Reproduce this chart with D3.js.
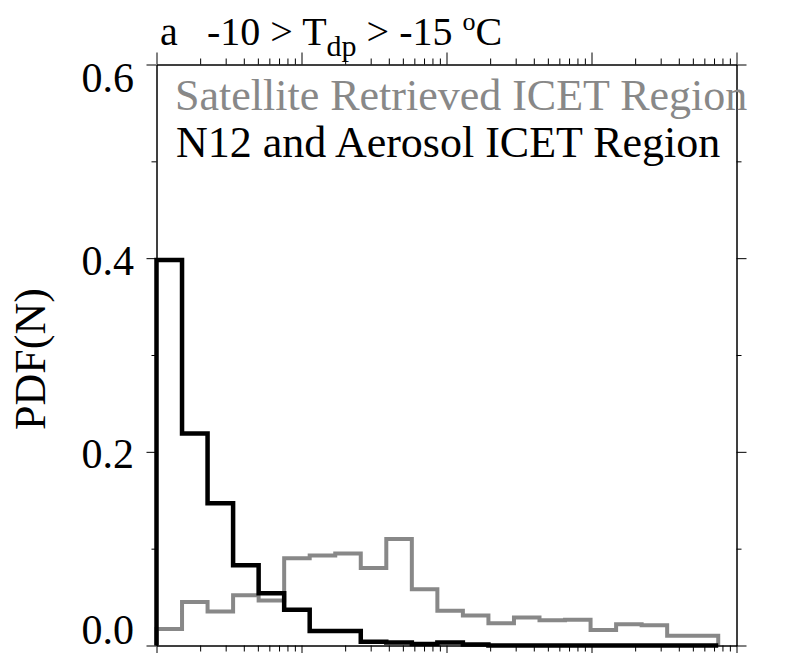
<!DOCTYPE html>
<html>
<head>
<meta charset="utf-8">
<script src="https://cdn.jsdelivr.net/npm/d3@7"></script>
<style>
  html, body { margin: 0; padding: 0; background: #fff; }
  svg { display: block; }
  text { font-family: "Liberation Serif", "Times New Roman", serif; }
</style>
</head>
<body>
<div id="chart"></div>
<script>
// ---- data ----
const binEdges = [1, 1.5, 2.25, 3.375, 5.0625, 7.594, 11.39, 17.09, 25.63, 38.44, 57.67,
                  86.5, 129.7, 194.6, 291.9, 437.9, 656.8, 985.3, 1478, 2217, 3325, 4988, 7482];
const satelliteValues = [0.017, 0.045, 0.035, 0.052, 0.0465, 0.090, 0.093, 0.095, 0.080, 0.110, 0.058,
                         0.036, 0.031, 0.023, 0.029, 0.026, 0.0265, 0.016, 0.022, 0.021, 0.010, 0.010];
const n12Values = [0.398, 0.219, 0.147, 0.083, 0.054, 0.037, 0.015, 0.015, 0.004, 0.003, 0.0015,
                   0.003, 0.001, 0, 0, 0, 0, 0, 0, 0, 0, 0];
const yMajorTicks = [0.0, 0.2, 0.4, 0.6];
const yMinorTicks = [0.1, 0.3, 0.5];
const xMajorTicks = [1, 10, 100, 1000, 10000];
const seriesNames = ["Satellite Retrieved ICET Region", "N12 and Aerosol ICET Region"];
const seriesColors = ["#888888", "#000000"];
const yLabel = "PDF(N)";

// ---- layout ----
const W = 803, H = 653;
const m = { left: 156.5, top: 64.5, right: 803 - 736.5, bottom: 653 - 645.5 };
const pw = W - m.left - m.right, ph = H - m.top - m.bottom;

const svg = d3.select("#chart").append("svg").attr("width", W).attr("height", H);
const g = svg.append("g").attr("transform", `translate(${m.left},${m.top})`);

const x = d3.scaleLog().domain([1, 10000]).range([0, pw]);
const y = d3.scaleLinear().domain([0, 0.6]).range([ph, 0]);

const xMinor = x.ticks().filter(v => !xMajorTicks.includes(v));

// ---- histograms ----
function stepPoints(vals) {
  const pts = [[binEdges[0], 0]];
  vals.forEach((v, i) => { pts.push([binEdges[i], v]); pts.push([binEdges[i + 1], v]); });
  pts.push([binEdges[vals.length], 0]);
  return pts;
}
const line = d3.line().x(d => x(d[0])).y(d => y(d[1]));

[satelliteValues, n12Values].forEach((vals, i) => {
  g.append("path")
    .attr("d", line(stepPoints(vals)))
    .attr("fill", "none")
    .attr("stroke", seriesColors[i])
    .attr("stroke-width", i === 1 ? 4.5 : 4)
    .attr("stroke-linejoin", "miter");
});

// ---- axes ----
function styleAxis(sel) {
  sel.select(".domain").attr("stroke", "#000").attr("stroke-width", 1);
  sel.selectAll(".tick line").attr("stroke", "#000").attr("stroke-width", 1);
  sel.selectAll(".tick text").remove();
}
// bottom
g.append("g").attr("transform", `translate(0,${ph})`)
  .call(d3.axisBottom(x).tickValues(xMajorTicks).tickSize(12).tickSizeOuter(0).tickFormat(""))
  .call(styleAxis);
g.append("g").attr("transform", `translate(0,${ph})`)
  .call(d3.axisBottom(x).tickValues(xMinor).tickSize(6).tickSizeOuter(0).tickFormat(""))
  .call(styleAxis);
// top
g.append("g")
  .call(d3.axisTop(x).tickValues(xMajorTicks).tickSize(12).tickSizeOuter(0).tickFormat(""))
  .call(styleAxis);
g.append("g")
  .call(d3.axisTop(x).tickValues(xMinor).tickSize(6).tickSizeOuter(0).tickFormat(""))
  .call(styleAxis);
// left
const leftAxis = g.append("g")
  .call(d3.axisLeft(y).tickValues(yMajorTicks).tickSize(10).tickSizeOuter(0).tickFormat(d3.format(".1f")));
leftAxis.select(".domain").attr("stroke", "#000");
leftAxis.selectAll(".tick line").attr("stroke", "#000");
leftAxis.selectAll(".tick text")
  .attr("x", -22.5)
  .attr("dy", null)
  .attr("y", d => d === 0.6 ? 27 : (d === 0 ? -2 : 16))
  .attr("font-size", 42)
  .attr("font-family", "Liberation Serif, serif")
  .attr("fill", "#000");
g.append("g")
  .call(d3.axisLeft(y).tickValues(yMinorTicks).tickSize(5).tickSizeOuter(0).tickFormat(""))
  .call(styleAxis);
// right
g.append("g").attr("transform", `translate(${pw},0)`)
  .call(d3.axisRight(y).tickValues(yMajorTicks).tickSize(10).tickSizeOuter(0).tickFormat(""))
  .call(styleAxis);
g.append("g").attr("transform", `translate(${pw},0)`)
  .call(d3.axisRight(y).tickValues(yMinorTicks).tickSize(5).tickSizeOuter(0).tickFormat(""))
  .call(styleAxis);

// ---- y label ----
svg.append("text")
  .attr("transform", "translate(45,359) rotate(-90)")
  .attr("text-anchor", "middle")
  .attr("font-size", 44)
  .attr("fill", "#000")
  .text(yLabel);

// ---- title ----
const title = svg.append("text")
  .attr("x", 160).attr("y", 45)
  .attr("font-size", 40)
  .attr("fill", "#000");
title.append("tspan").text("a");
title.append("tspan").attr("x", 207).text("-10 > T");
title.append("tspan").attr("font-size", 30).attr("dy", 11).text("dp");
title.append("tspan").attr("dy", -11).text(" > -15 ");
title.append("tspan").attr("font-size", 26).attr("dy", -15).text("o");
title.append("tspan").attr("dy", 15).text("C");

// ---- legend ----
svg.append("text").attr("x", 175).attr("y", 110)
  .attr("font-size", 44).attr("fill", seriesColors[0]).text(seriesNames[0]);
svg.append("text").attr("x", 176).attr("y", 157)
  .attr("font-size", 44).attr("fill", seriesColors[1]).text(seriesNames[1]);
</script>
</body>
</html>
